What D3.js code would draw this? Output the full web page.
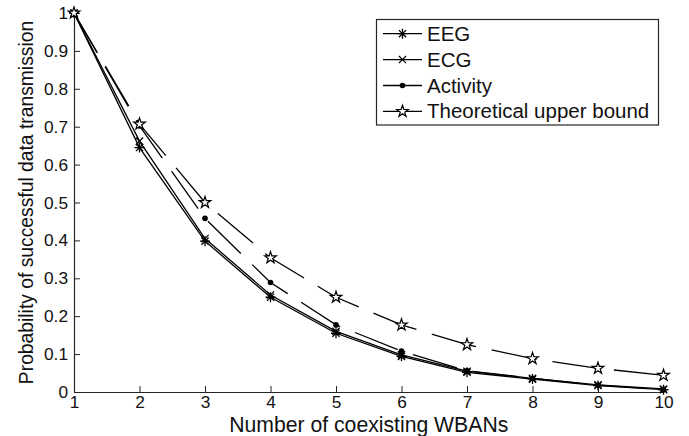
<!DOCTYPE html>
<html><head><meta charset="utf-8">
<script src="https://cdn.jsdelivr.net/npm/d3@7"></script>
<style>
html,body{margin:0;padding:0;background:#fff;}
svg{display:block;font-family:"Liberation Sans",Arial,Helvetica,sans-serif;}
</style></head>
<body><svg id="chart" width="689" height="436"></svg>
<script>
// ---- data ----
const xValues = [1, 2, 3, 4, 5, 6, 7, 8, 9, 10];
const eeg      = [1, 0.645, 0.398, 0.250, 0.155, 0.094, 0.052, 0.034, 0.017, 0.006];
const ecg      = [1, 0.662, 0.405, 0.256, 0.160, 0.098, 0.055, 0.036, 0.019, 0.008];
const activity = [1, 0.702, 0.458, 0.289, 0.177, 0.108, 0.056, 0.036, 0.018, 0.006];
const theory   = [1, 0.707, 0.500, 0.354, 0.250, 0.177, 0.125, 0.088, 0.0625, 0.044];
const seriesNames = ["EEG", "ECG", "Activity", "Theoretical upper bound"];
const xTicks = [1, 2, 3, 4, 5, 6, 7, 8, 9, 10];
const xTickLabels = ["1","2","3","4","5","6","7","8","9","10"];
const yTicks = [0, 0.1, 0.2, 0.3, 0.4, 0.5, 0.6, 0.7, 0.8, 0.9, 1];
const yTickLabels = ["0","0.1","0.2","0.3","0.4","0.5","0.6","0.7","0.8","0.9","1"];
const xTitle = "Number of coexisting WBANs";
const yTitle = "Probability of successful data transmission";

// ---- layout ----
const svg = d3.select("#chart");
const x = d3.scaleLinear().domain([1, 10]).range([74, 663.5]);
const y = d3.scaleLinear().domain([0, 1]).range([392, 13]);
const axisColor = "#262626";

const series = [
  {name: seriesNames[0], values: eeg, marker: "asterisk", dash: null},
  {name: seriesNames[1], values: ecg, marker: "x", dash: null},
  {name: seriesNames[2], values: activity, marker: "dot", dash: "46,16"},
  {name: seriesNames[3], values: theory, marker: "star", dash: "46,16"}
];

// axes
const gx = svg.append("g").attr("transform", `translate(0,${y(0)})`)
  .call(d3.axisBottom(x).tickValues(xTicks).tickFormat((d,i)=>xTickLabels[i])
    .tickSizeInner(-6).tickSizeOuter(0).tickPadding(4));
const gy = svg.append("g").attr("transform", `translate(${x(1)},0)`)
  .call(d3.axisLeft(y).tickValues(yTicks).tickFormat((d,i)=>yTickLabels[i])
    .tickSizeInner(-6).tickSizeOuter(0).tickPadding(6));
[gx, gy].forEach(g => {
  g.select(".domain").attr("stroke", axisColor).attr("stroke-width", 1.2);
  g.selectAll(".tick line").attr("stroke", axisColor).attr("stroke-width", 1);
  g.selectAll(".tick text").attr("fill", "#111").style("font-size", "17.3px")
   .style("font-family", "'Liberation Sans',Arial,sans-serif");
});

// titles
svg.append("text").attr("x", (x(1)+x(10))/2).attr("y", 431.5)
  .attr("text-anchor", "middle").style("font-size", "21.2px").attr("fill", "#111").text(xTitle);
svg.append("text").attr("transform", `translate(33,${(y(0)+y(1))/2}) rotate(-90)`)
  .attr("text-anchor", "middle").style("font-size", "19.3px").attr("fill", "#111").text(yTitle);

// markers
function drawMarker(g, type, cx, cy) {
  if (type === "asterisk") {
    const r = 5, d = r*0.72;
    g.append("path").attr("d",
      `M${cx-r},${cy}L${cx+r},${cy}M${cx},${cy-r}L${cx},${cy+r}` +
      `M${cx-d},${cy-d}L${cx+d},${cy+d}M${cx-d},${cy+d}L${cx+d},${cy-d}`)
      .attr("stroke", "#000").attr("stroke-width", 1.3).attr("fill", "none");
  } else if (type === "x") {
    const r = 3.6;
    g.append("path").attr("d",
      `M${cx-r},${cy-r}L${cx+r},${cy+r}M${cx-r},${cy+r}L${cx+r},${cy-r}`)
      .attr("stroke", "#000").attr("stroke-width", 1.2).attr("fill", "none");
  } else if (type === "dot") {
    g.append("circle").attr("cx", cx).attr("cy", cy).attr("r", 2.8).attr("fill", "#000");
  } else if (type === "star") {
    g.append("path").attr("transform", `translate(${cx},${cy})`)
      .attr("d", d3.symbol().type(d3.symbolStar).size(42)())
      .attr("fill", "#fff").attr("stroke", "#000").attr("stroke-width", 1.2);
  }
}

const line = d3.line().x((d,i)=>x(xValues[i])).y(d=>y(d));
series.forEach(s => {
  const g = svg.append("g");
  g.append("path").attr("d", line(s.values)).attr("fill", "none")
    .attr("stroke", "#000").attr("stroke-width", 1.3)
    .attr("stroke-dasharray", s.dash);
});
series.forEach(s => {
  const g = svg.append("g");
  s.values.forEach((v,i) => drawMarker(g, s.marker, x(xValues[i]), y(v)));
});

// legend
const lg = svg.append("g");
lg.append("rect").attr("x", 376.5).attr("y", 19.5).attr("width", 282).attr("height", 105.5)
  .attr("fill", "#fff").attr("stroke", axisColor).attr("stroke-width", 1.2);
series.forEach((s, i) => {
  const base = 40.7 + i*25.9;
  const cy = base - 7;
  lg.append("line").attr("x1", 383).attr("x2", 422).attr("y1", cy).attr("y2", cy)
    .attr("stroke", "#000").attr("stroke-width", 1.3);
  drawMarker(lg, s.marker, 402.5, cy);
  lg.append("text").attr("x", 427).attr("y", base).style("font-size", "20.5px")
    .attr("fill", "#111").text(s.name);
});
</script></body></html>
